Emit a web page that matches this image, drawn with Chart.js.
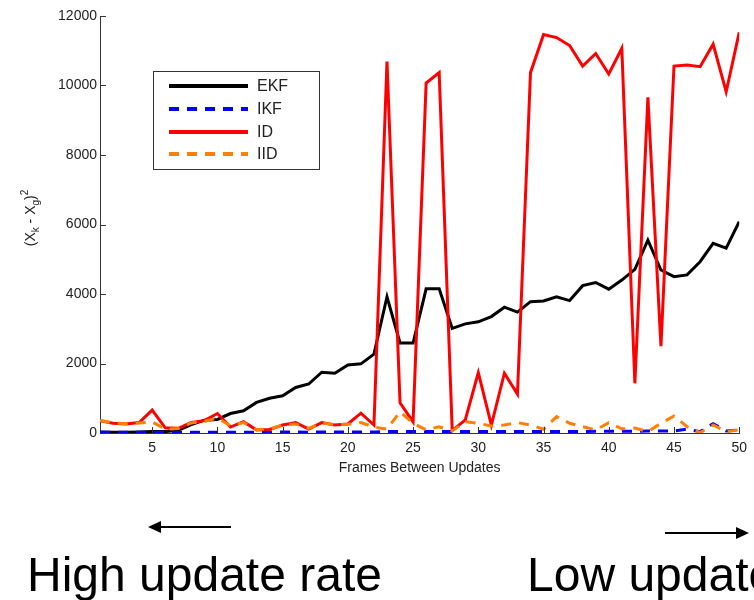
<!DOCTYPE html>
<html>
<head>
<meta charset="utf-8">
<script src="https://cdn.jsdelivr.net/npm/chart.js@4"></script>
<style>
  html, body { margin: 0; padding: 0; background: #fff; }
  body { width: 754px; height: 600px; position: relative; overflow: hidden; font-family: "Liberation Sans", Arial, sans-serif; }
  #chart { position: absolute; left: 0; top: 0; }
  #arrows { position: absolute; left: 0; top: 0; }
  .rate { position: absolute; font-size: 48px; line-height: 48px; color: #000; white-space: nowrap; }
</style>
</head>
<body>
<canvas id="chart" width="754" height="480"></canvas>
<svg id="arrows" width="754" height="600">
  <line x1="158" y1="527" x2="231" y2="527" stroke="#000" stroke-width="2"/>
  <polygon points="148,527 161,521 161,533" fill="#000"/>
  <line x1="665" y1="533" x2="738" y2="533" stroke="#000" stroke-width="2"/>
  <polygon points="749,533 736,527 736,539" fill="#000"/>
</svg>
<div class="rate" style="left:27px; top:551px">High update rate</div>
<div class="rate" style="left:527px; top:551px">Low update rate</div>
<script>
// frames between updates
const frames = [1, 2, 3, 4, 5, 6, 7, 8, 9, 10, 11, 12, 13, 14, 15, 16, 17, 18, 19, 20,
    21, 22, 23, 24, 25, 26, 27, 28, 29, 30, 31, 32, 33, 34, 35, 36, 37, 38, 39, 40,
    41, 42, 43, 44, 45, 46, 47, 48, 49, 50];

// squared error per filter
const ekf = [30, 20, 20, 30, 40, 40, 80, 240, 370, 390, 560, 640, 880, 1000, 1070, 1310, 1410, 1750, 1720, 1960,
    1990, 2270, 3920, 2590, 2590, 4150, 4150, 3010, 3140, 3200, 3350, 3620, 3480, 3780, 3800, 3920, 3810, 4240, 4330, 4140,
    4400, 4710, 5550, 4690, 4500, 4550, 4930, 5460, 5320, 6080];
const ikf = [20, 20, 20, 20, 20, 20, 20, 20, 20, 20, 20, 20, 20, 30, 30, 30, 20, 30, 30, 30,
    30, 30, 40, 40, 40, 40, 40, 40, 40, 40, 40, 40, 40, 40, 40, 40, 40, 40, 50, 50,
    50, 50, 60, 60, 60, 110, 40, 270, 60, 90];
const id = [355, 280, 260, 300, 660, 150, 135, 300, 355, 560, 170, 325, 90, 100, 230, 300, 110, 300, 230, 260,
    570, 230, 10690, 870, 320, 10070, 10370, 70, 375, 1735, 230, 1720, 1120, 10370, 11470, 11380, 11150, 10560, 10920, 10330,
    11070, 1430, 9660, 2500, 10560, 10590, 10540, 11190, 9820, 11530];
const iid = [360, 290, 265, 290, 320, 110, 130, 290, 330, 430, 210, 300, 100, 110, 230, 260, 130, 290, 240, 250,
    300, 170, 110, 610, 280, 90, 180, 60, 325, 280, 200, 230, 300, 230, 110, 470, 280, 180, 90, 300,
    120, 140, 40, 280, 490, 180, 10, 230, 40, 90];

const xTicks = [5, 10, 15, 20, 25, 30, 35, 40, 45, 50];
const yTicks = [0, 2000, 4000, 6000, 8000, 10000, 12000];

const FONT = '"Liberation Sans", Arial, sans-serif';
const AXIS = "#333";
const TEXT = "#222";

const series = [
    { label: "EKF", values: ekf, color: "#000000", dash: [], order: 4 },
    { label: "IKF", values: ikf, color: "#0000ff", dash: [10, 8], order: 3 },
    { label: "ID", values: id, color: "#ff0000", dash: [], order: 2 },
    { label: "IID", values: iid, color: "#ff8000", dash: [10, 8], order: 1 }
];

// (X_k - X_g)^2 with sub/superscripts, written bottom to top
function drawYTitle(c, cx, cy) {
    const parts = [
        { t: "(X", size: 14, dy: 0 },
        { t: "k", size: 10, dy: 4 },
        { t: " - X", size: 14, dy: 0 },
        { t: "g", size: 10, dy: 4 },
        { t: ")", size: 14, dy: 0 },
        { t: "2", size: 10, dy: -7 }
    ];
    c.save();
    c.fillStyle = TEXT;
    c.textBaseline = "alphabetic";
    let total = 0;
    parts.forEach(p => {
        c.font = `${p.size}px ${FONT}`;
        p.w = c.measureText(p.t).width;
        total += p.w;
    });
    c.translate(cx, cy);
    c.rotate(-Math.PI / 2);
    let x = -total / 2;
    parts.forEach(p => {
        c.font = `${p.size}px ${FONT}`;
        c.fillText(p.t, x, 5 + p.dy);
        x += p.w;
    });
    c.restore();
}

const axisExtras = {
    id: "axisExtras",
    afterDraw(chart) {
        const c = chart.ctx;
        const xs = chart.scales.x;
        const ys = chart.scales.y;
        const area = chart.chartArea;

        // inward tick marks
        c.save();
        c.strokeStyle = AXIS;
        c.lineWidth = 1;
        c.beginPath();
        yTicks.forEach(v => {
            const py = Math.round(ys.getPixelForValue(v)) + 0.5;
            c.moveTo(area.left, py);
            c.lineTo(area.left + 6, py);
        });
        xTicks.forEach(v => {
            const px = Math.round(xs.getPixelForValue(v)) + 0.5;
            c.moveTo(px, area.bottom);
            c.lineTo(px, area.bottom - 6);
        });
        c.stroke();
        c.restore();

        drawYTitle(c, 30, 218);

        // legend box
        const bx = 153, by = 71, bw = 166, bh = 98;
        c.save();
        c.fillStyle = "#fff";
        c.fillRect(bx, by, bw, bh);
        c.strokeStyle = AXIS;
        c.lineWidth = 1;
        c.strokeRect(bx + 0.5, by + 0.5, bw, bh);
        const rows = [86, 109, 132, 154];
        series.forEach((s, i) => {
            c.beginPath();
            c.strokeStyle = s.color;
            c.lineWidth = 4;
            c.setLineDash(s.dash);
            c.moveTo(169, rows[i]);
            c.lineTo(248, rows[i]);
            c.stroke();
            c.setLineDash([]);
            c.fillStyle = TEXT;
            c.font = `16px ${FONT}`;
            c.textBaseline = "middle";
            c.fillText(s.label, 257, rows[i] + 1);
        });
        c.restore();
    }
};

const ctx = document.getElementById("chart").getContext("2d");
new Chart(ctx, {
    type: "line",
    data: {
        datasets: series.map(s => ({
            label: s.label,
            data: frames.map((f, i) => ({ x: f, y: s.values[i] })),
            borderColor: s.color,
            borderDash: s.dash,
            borderWidth: 3,
            pointRadius: 0,
            tension: 0,
            fill: false,
            order: s.order
        }))
    },
    options: {
        responsive: false,
        animation: false,
        layout: { padding: { top: 16, right: 12, left: 0, bottom: 0 } },
        plugins: { legend: { display: false }, tooltip: { enabled: false } },
        scales: {
            x: {
                type: "linear",
                min: 1,
                max: 50,
                afterBuildTicks: s => { s.ticks = xTicks.map(v => ({ value: v })); },
                afterFit: s => { s.height = 47; },
                grid: { display: false, drawTicks: false },
                border: { color: AXIS, width: 1 },
                ticks: { font: { family: FONT, size: 14 }, color: TEXT, padding: 7, maxRotation: 0, autoSkip: false },
                title: {
                    display: true,
                    text: "Frames Between Updates",
                    font: { family: FONT, size: 14 },
                    color: TEXT,
                    padding: { top: 0, bottom: 3 }
                }
            },
            y: {
                min: 0,
                max: 12000,
                afterBuildTicks: s => { s.ticks = yTicks.map(v => ({ value: v })); },
                afterFit: s => { s.width = 100; },
                grid: { display: false, drawTicks: false },
                border: { color: AXIS, width: 1 },
                ticks: { font: { family: FONT, size: 14 }, color: TEXT, padding: 3, callback: v => String(v) }
            }
        }
    },
    plugins: [axisExtras]
});
</script>
</body>
</html>
